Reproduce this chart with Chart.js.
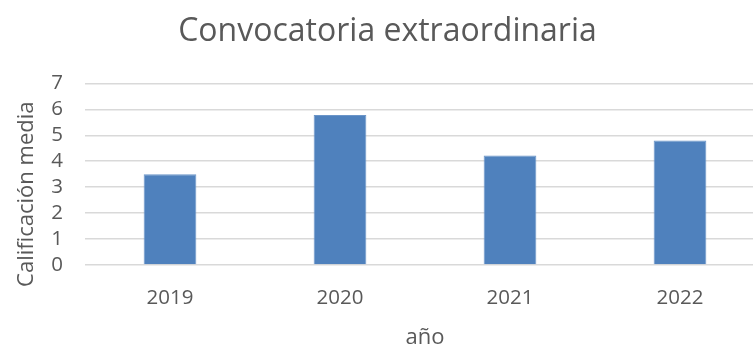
<!DOCTYPE html>
<html>
<head>
<meta charset="utf-8">
<script src="https://cdn.jsdelivr.net/npm/chart.js@4/dist/chart.umd.min.js"></script>
<style>
    html, body {
        margin: 0;
        padding: 0;
        background: #ffffff;
        overflow: hidden;
    }
    #wrap {
        width: 772px;
        height: 346px;
    }
</style>
</head>
<body>
<div id="wrap"><canvas id="grades-canvas"></canvas></div>
<script>
const years = [`2019`, `2020`, `2021`, `2022`];
const avgGrades = [3.5, 5.78, 4.22, 4.8];
const yTicks = [0, 1, 2, 3, 4, 5, 6, 7];

const textColor = `#595959`;
const fontFamily = `"Open Sans", sans-serif`;

function drawChart() {
    const ctx = document.querySelector(`#grades-canvas`).getContext(`2d`);
    const myChart = new Chart(ctx, {
        type: `bar`,
        data: {
            labels: years,
            datasets: [
                {
                    label: `Calificación media`,
                    data: avgGrades,
                    backgroundColor: `#4f81bd`,
                    borderColor: `#6b95c8`,
                    borderWidth: 1,
                    barPercentage: 0.31,
                    categoryPercentage: 1,
                },
            ],
        },
        options: {
            responsive: true,
            maintainAspectRatio: false,
            animation: false,
            layout: {
                padding: { left: 10, right: 7, top: 13, bottom: 0 }
            },
            plugins: {
                legend: {
                    display: false
                },
                tooltip: {
                    enabled: false
                },
                title: {
                    display: true,
                    text: `Convocatoria extraordinaria`,
                    color: textColor,
                    font: { family: fontFamily, size: 32, weight: `normal` },
                    padding: { top: 0, bottom: 32 }
                }
            },
            scales: {
                x: {
                    afterFit: scale => {
                        scale.height = 81;
                    },
                    grid: { display: false },
                    border: { display: false },
                    ticks: {
                        color: textColor,
                        font: { family: fontFamily, size: 20.5 },
                        padding: 13
                    },
                    title: {
                        display: true,
                        text: `año`,
                        color: textColor,
                        font: { family: fontFamily, size: 22, lineHeight: 0.75 },
                        padding: { top: 0, bottom: 0 }
                    }
                },
                y: {
                    min: 0,
                    max: 7,
                    afterBuildTicks: scale => {
                        scale.ticks = yTicks.map(v => ({ value: v }));
                    },
                    afterFit: scale => {
                        scale.width = 75;
                    },
                    grid: {
                        color: `#d9d9d9`,
                        lineWidth: 1.5,
                        drawTicks: false
                    },
                    border: { display: false },
                    ticks: {
                        autoSkip: false,
                        color: textColor,
                        font: { family: fontFamily, size: 20.5 },
                        padding: 22
                    },
                    title: {
                        display: true,
                        // trailing spaces push the label a bit lower along the axis
                        text: `Calificación media       `,
                        color: textColor,
                        font: { family: fontFamily, size: 22 },
                        padding: { top: 4, bottom: 0 }
                    }
                }
            }
        }
    });
}

drawChart();
</script>
</body>
</html>
